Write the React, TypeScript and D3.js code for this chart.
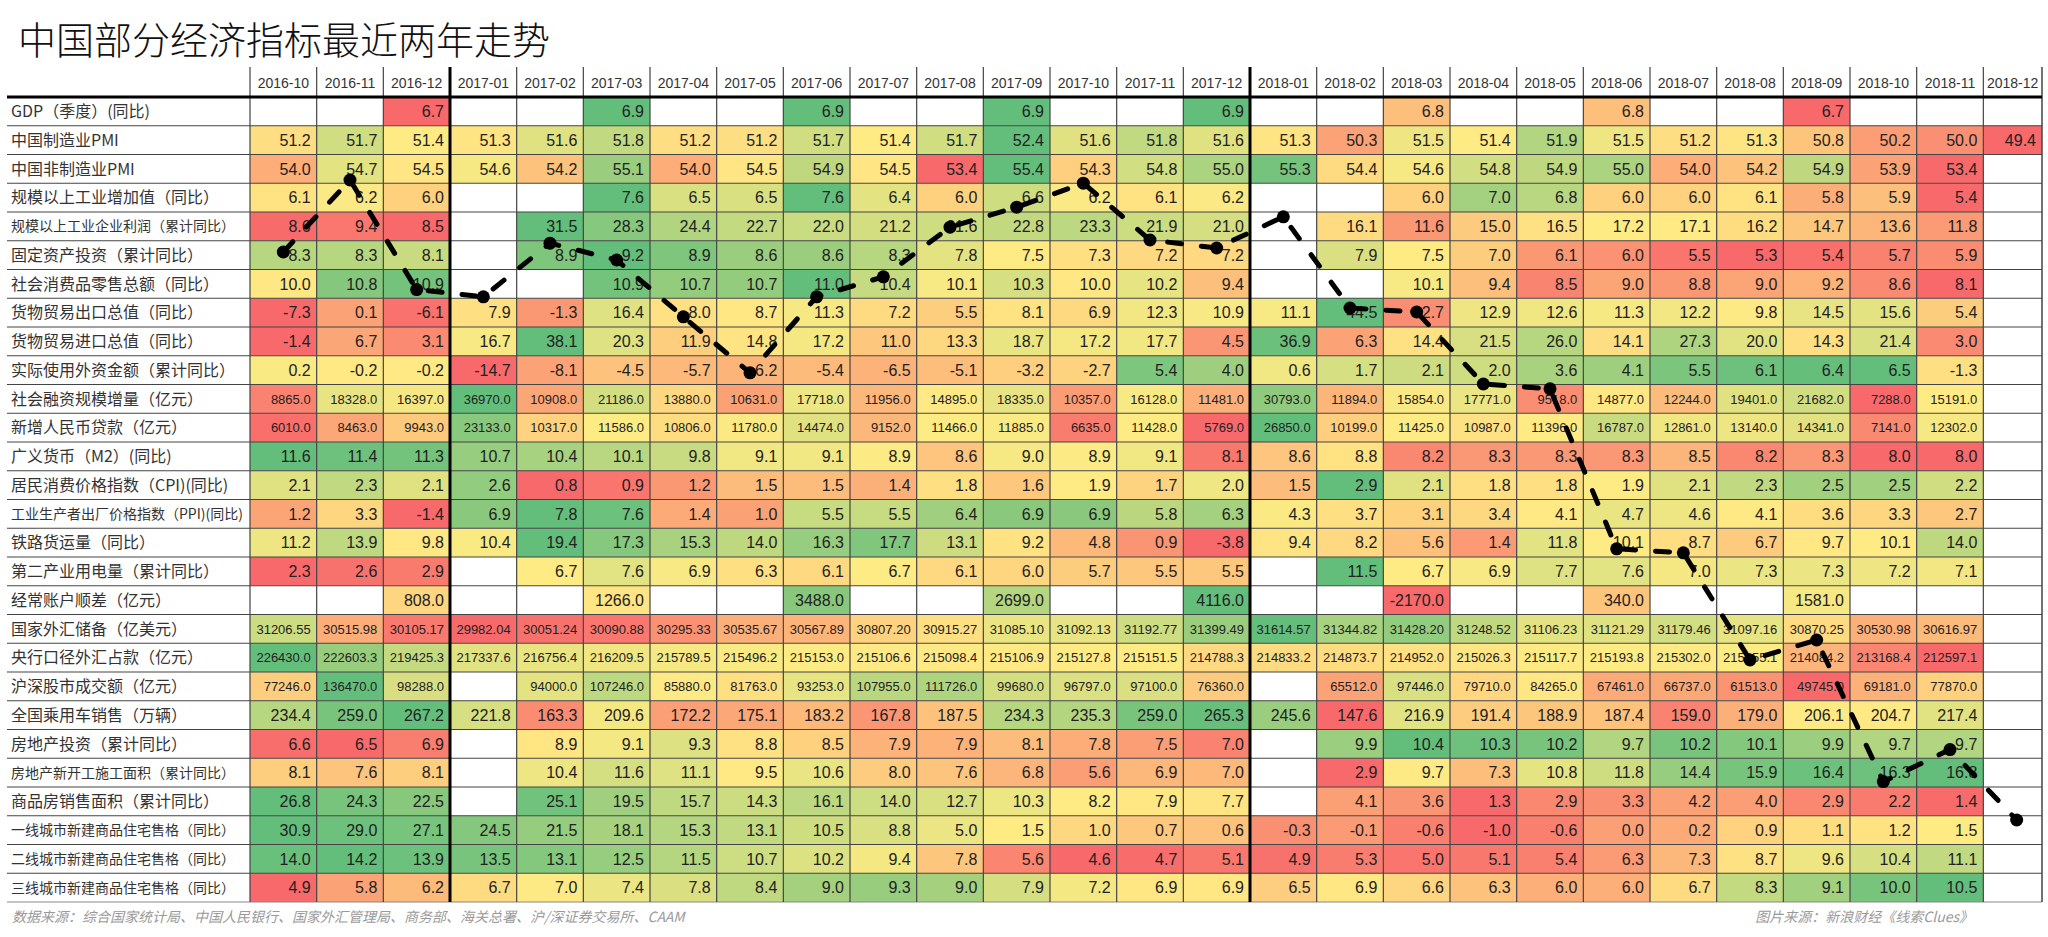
import React from "react";
import * as d3 from "d3";

const months = [
  "2016-10","2016-11","2016-12","2017-01","2017-02","2017-03","2017-04","2017-05","2017-06",
  "2017-07","2017-08","2017-09","2017-10","2017-11","2017-12","2018-01","2018-02","2018-03",
  "2018-04","2018-05","2018-06","2018-07","2018-08","2018-09","2018-10","2018-11","2018-12",
];

const rowLabels = [
  "GDP（季度）(同比)",
  "中国制造业PMI",
  "中国非制造业PMI",
  "规模以上工业增加值（同比）",
  "规模以上工业企业利润（累计同比）",
  "固定资产投资（累计同比）",
  "社会消费品零售总额（同比）",
  "货物贸易出口总值（同比）",
  "货物贸易进口总值（同比）",
  "实际使用外资金额（累计同比）",
  "社会融资规模增量（亿元）",
  "新增人民币贷款（亿元）",
  "广义货币（M2）(同比)",
  "居民消费价格指数（CPI)(同比)",
  "工业生产者出厂价格指数（PPI)(同比)",
  "铁路货运量（同比）",
  "第二产业用电量（累计同比）",
  "经常账户顺差（亿元）",
  "国家外汇储备（亿美元）",
  "央行口径外汇占款（亿元）",
  "沪深股市成交额（亿元）",
  "全国乘用车销售（万辆）",
  "房地产投资（累计同比）",
  "房地产新开工施工面积（累计同比）",
  "商品房销售面积（累计同比）",
  "一线城市新建商品住宅售格（同比）",
  "二线城市新建商品住宅售格（同比）",
  "三线城市新建商品住宅售格（同比）",
];

const _ = null;
const gdp = [_,_,6.7,_,_,6.9,_,_,6.9,_,_,6.9,_,_,6.9,_,_,6.8,_,_,6.8,_,_,6.7,_,_,_];
const pmiMfg = [51.2,51.7,51.4,51.3,51.6,51.8,51.2,51.2,51.7,51.4,51.7,52.4,51.6,51.8,51.6,51.3,50.3,51.5,51.4,51.9,51.5,51.2,51.3,50.8,50.2,50.0,49.4];
const pmiNonMfg = [54.0,54.7,54.5,54.6,54.2,55.1,54.0,54.5,54.9,54.5,53.4,55.4,54.3,54.8,55.0,55.3,54.4,54.6,54.8,54.9,55.0,54.0,54.2,54.9,53.9,53.4,_];
const industrialOutput = [6.1,6.2,6.0,_,_,7.6,6.5,6.5,7.6,6.4,6.0,6.6,6.2,6.1,6.2,_,_,6.0,7.0,6.8,6.0,6.0,6.1,5.8,5.9,5.4,_];
const industrialProfit = [8.6,9.4,8.5,_,31.5,28.3,24.4,22.7,22.0,21.2,21.6,22.8,23.3,21.9,21.0,_,16.1,11.6,15.0,16.5,17.2,17.1,16.2,14.7,13.6,11.8,_];
const fixedInvestment = [8.3,8.3,8.1,_,8.9,9.2,8.9,8.6,8.6,8.3,7.8,7.5,7.3,7.2,7.2,_,7.9,7.5,7.0,6.1,6.0,5.5,5.3,5.4,5.7,5.9,_];
const retailSales = [10.0,10.8,10.9,_,_,10.9,10.7,10.7,11.0,10.4,10.1,10.3,10.0,10.2,9.4,_,_,10.1,9.4,8.5,9.0,8.8,9.0,9.2,8.6,8.1,_];
const exportsYoY = [-7.3,0.1,-6.1,7.9,-1.3,16.4,8.0,8.7,11.3,7.2,5.5,8.1,6.9,12.3,10.9,11.1,44.5,-2.7,12.9,12.6,11.3,12.2,9.8,14.5,15.6,5.4,_];
const importsYoY = [-1.4,6.7,3.1,16.7,38.1,20.3,11.9,14.8,17.2,11.0,13.3,18.7,17.2,17.7,4.5,36.9,6.3,14.4,21.5,26.0,14.1,27.3,20.0,14.3,21.4,3.0,_];
const fdi = [0.2,-0.2,-0.2,-14.7,-8.1,-4.5,-5.7,-6.2,-5.4,-6.5,-5.1,-3.2,-2.7,5.4,4.0,0.6,1.7,2.1,2.0,3.6,4.1,5.5,6.1,6.4,6.5,-1.3,_];
const socialFinancing = [8865.0,18328.0,16397.0,36970.0,10908.0,21186.0,13880.0,10631.0,17718.0,11956.0,14895.0,18335.0,10357.0,16128.0,11481.0,30793.0,11894.0,15854.0,17771.0,9518.0,14877.0,12244.0,19401.0,21682.0,7288.0,15191.0,_];
const newLoans = [6010.0,8463.0,9943.0,23133.0,10317.0,11586.0,10806.0,11780.0,14474.0,9152.0,11466.0,11885.0,6635.0,11428.0,5769.0,26850.0,10199.0,11425.0,10987.0,11396.0,16787.0,12861.0,13140.0,14341.0,7141.0,12302.0,_];
const m2 = [11.6,11.4,11.3,10.7,10.4,10.1,9.8,9.1,9.1,8.9,8.6,9.0,8.9,9.1,8.1,8.6,8.8,8.2,8.3,8.3,8.3,8.5,8.2,8.3,8.0,8.0,_];
const cpi = [2.1,2.3,2.1,2.6,0.8,0.9,1.2,1.5,1.5,1.4,1.8,1.6,1.9,1.7,2.0,1.5,2.9,2.1,1.8,1.8,1.9,2.1,2.3,2.5,2.5,2.2,_];
const ppi = [1.2,3.3,-1.4,6.9,7.8,7.6,1.4,1.0,5.5,5.5,6.4,6.9,6.9,5.8,6.3,4.3,3.7,3.1,3.4,4.1,4.7,4.6,4.1,3.6,3.3,2.7,_];
const railFreight = [11.2,13.9,9.8,10.4,19.4,17.3,15.3,14.0,16.3,17.7,13.1,9.2,4.8,0.9,-3.8,9.4,8.2,5.6,1.4,11.8,10.1,8.7,6.7,9.7,10.1,14.0,_];
const secondaryPower = [2.3,2.6,2.9,_,6.7,7.6,6.9,6.3,6.1,6.7,6.1,6.0,5.7,5.5,5.5,_,11.5,6.7,6.9,7.7,7.6,7.0,7.3,7.3,7.2,7.1,_];
const currentAccount = [_,_,808.0,_,_,1266.0,_,_,3488.0,_,_,2699.0,_,_,4116.0,_,_,-2170.0,_,_,340.0,_,_,1581.0,_,_,_];
const fxReserves = [31206.55,30515.98,30105.17,29982.04,30051.24,30090.88,30295.33,30535.67,30567.89,30807.20,30915.27,31085.10,31092.13,31192.77,31399.49,31614.57,31344.82,31428.20,31248.52,31106.23,31121.29,31179.46,31097.16,30870.25,30530.98,30616.97,_];
const fxPosition = [226430.0,222603.3,219425.3,217337.6,216756.4,216209.5,215789.5,215496.2,215153.0,215106.6,215098.4,215106.9,215127.8,215151.5,214788.3,214833.2,214873.7,214952.0,215026.3,215117.7,215193.8,215302.0,215255.1,214084.2,213168.4,212597.1,_];
const stockTurnover = [77246.0,136470.0,98288.0,_,94000.0,107246.0,85880.0,81763.0,93253.0,107955.0,111726.0,99680.0,96797.0,97100.0,76360.0,_,65512.0,97446.0,79710.0,84265.0,67461.0,66737.0,61513.0,49745.0,69181.0,77870.0,_];
const carSales = [234.4,259.0,267.2,221.8,163.3,209.6,172.2,175.1,183.2,167.8,187.5,234.3,235.3,259.0,265.3,245.6,147.6,216.9,191.4,188.9,187.4,159.0,179.0,206.1,204.7,217.4,_];
const realEstateInv = [6.6,6.5,6.9,_,8.9,9.1,9.3,8.8,8.5,7.9,7.9,8.1,7.8,7.5,7.0,_,9.9,10.4,10.3,10.2,9.7,10.2,10.1,9.9,9.7,9.7,_];
const newStarts = [8.1,7.6,8.1,_,10.4,11.6,11.1,9.5,10.6,8.0,7.6,6.8,5.6,6.9,7.0,_,2.9,9.7,7.3,10.8,11.8,14.4,15.9,16.4,16.3,16.8,_];
const housingSales = [26.8,24.3,22.5,_,25.1,19.5,15.7,14.3,16.1,14.0,12.7,10.3,8.2,7.9,7.7,_,4.1,3.6,1.3,2.9,3.3,4.2,4.0,2.9,2.2,1.4,_];
const tier1Price = [30.9,29.0,27.1,24.5,21.5,18.1,15.3,13.1,10.5,8.8,5.0,1.5,1.0,0.7,0.6,-0.3,-0.1,-0.6,-1.0,-0.6,0.0,0.2,0.9,1.1,1.2,1.5,_];
const tier2Price = [14.0,14.2,13.9,13.5,13.1,12.5,11.5,10.7,10.2,9.4,7.8,5.6,4.6,4.7,5.1,4.9,5.3,5.0,5.1,5.4,6.3,7.3,8.7,9.6,10.4,11.1,_];
const tier3Price = [4.9,5.8,6.2,6.7,7.0,7.4,7.8,8.4,9.0,9.3,9.0,7.9,7.2,6.9,6.9,6.5,6.9,6.6,6.3,6.0,6.0,6.7,8.3,9.1,10.0,10.5,_];

// hand-drawn trend overlay (index, 0-100)
const trendIndex = [81.0,90.0,76.3,75.4,82.1,80.0,72.9,65.9,75.4,77.9,84.1,86.6,89.6,82.5,81.5,85.4,74.0,73.5,64.5,63.9,43.9,43.4,30.0,32.5,14.8,18.8,10.0];

const rows: (number | null)[][] = [
  gdp, pmiMfg, pmiNonMfg, industrialOutput, industrialProfit, fixedInvestment, retailSales,
  exportsYoY, importsYoY, fdi, socialFinancing, newLoans, m2, cpi, ppi, railFreight,
  secondaryPower, currentAccount, fxReserves, fxPosition, stockTurnover, carSales,
  realEstateInv, newStarts, housingSales, tier1Price, tier2Price, tier3Price,
];

const smallLabelRows = [4, 14, 23, 25, 26, 27];
const smallValueRows = [10, 11, 18, 19, 20];
const twoDecimalRows = [18];

const W = 2048;
const H = 937;
const labelLeft = 7;
const tableLeft = 250;
const tableRight = 2042;
const colW = 66.667;
const headerTop = 67;
const headerBottom = 97;
const tableBottom = 902;

export default function App() {
  const x = d3
    .scaleBand<string>()
    .domain(months)
    .range([tableLeft, tableLeft + colW * months.length]);
  const y = d3
    .scaleBand<number>()
    .domain(rowLabels.map((_, i) => i))
    .range([headerBottom, tableBottom]);
  const ty = d3.scaleLinear().domain([0, 100]).range([900, 100]);

  const colorScales = rows.map((r) => {
    const vals = r.filter((v): v is number => v !== null);
    const mn = d3.min(vals) as number;
    const mx = d3.max(vals) as number;
    const md = d3.quantile(vals.slice().sort((a, b) => a - b), 0.5) as number;
    return d3
      .scaleLinear<string>()
      .domain([mn, md, mx])
      .range(["#F8696B", "#FFEB84", "#63BE7B"])
      .interpolate(d3.interpolateRgb)
      .clamp(true);
  });

  const bw = x.bandwidth();
  const rh = y.bandwidth();
  const cellRight = (m: string) => Math.min((x(m) as number) + bw, tableRight);

  const trendPts = months.map((m, i) => [(x(m) as number) + bw / 2, ty(trendIndex[i])] as [number, number]);
  const line = d3.line();

  const cjk = "'Noto Sans CJK SC', 'Noto Sans', sans-serif";
  const num = "'Liberation Sans', Arial, sans-serif";

  return (
    <svg
      width={W}
      height={H}
      style={{ position: "absolute", left: 0, top: 0, display: "block", background: "#fff" }}
    >
      <rect x={0} y={0} width={W} height={H} fill="#fff" />
      <text x={18} y={54} fontFamily={cjk} fontSize={38} fontWeight={300} fill="#111">
        中国部分经济指标最近两年走势
      </text>

      {/* cells */}
      {rows.map((r, ri) =>
        r.map((v, ci) => {
          const m = months[ci];
          const x0 = x(m) as number;
          const y0 = y(ri) as number;
          const w = cellRight(m) - x0;
          return (
            <rect
              key={`c${ri}-${ci}`}
              x={x0}
              y={y0}
              width={w}
              height={rh}
              fill={v === null ? "#fff" : colorScales[ri](v)}
            />
          );
        })
      )}

      {/* horizontal grid */}
      {rowLabels.map((_, ri) => {
        const yb = (y(ri) as number) + rh;
        return (
          <line
            key={`h${ri}`}
            x1={labelLeft}
            x2={tableRight}
            y1={yb}
            y2={yb}
            stroke={ri === rowLabels.length - 1 ? "#888" : "#444"}
            strokeWidth={1.2}
          />
        );
      })}

      {/* vertical grid */}
      {months.map((m, ci) => {
        const xv = x(m) as number;
        const thick = ci === 3 || ci === 15;
        return (
          <line
            key={`v${ci}`}
            x1={xv}
            x2={xv}
            y1={headerTop}
            y2={tableBottom}
            stroke={thick ? "#000" : "#444"}
            strokeWidth={thick ? 3 : 1.2}
          />
        );
      })}
      <line x1={tableRight} x2={tableRight} y1={headerTop} y2={tableBottom} stroke="#444" strokeWidth={1.5} />
      <line x1={labelLeft} x2={tableRight} y1={headerBottom} y2={headerBottom} stroke="#000" strokeWidth={3} />

      {/* header */}
      {months.map((m) => (
        <text
          key={`hd${m}`}
          x={((x(m) as number) + cellRight(m)) / 2}
          y={88}
          textAnchor="middle"
          fontFamily={num}
          fontSize={14}
          fill="#333"
        >
          {m}
        </text>
      ))}

      {/* row labels */}
      {rowLabels.map((lab, ri) => {
        const fs = smallLabelRows.includes(ri) ? 14 : 16;
        return (
          <text
            key={`l${ri}`}
            x={11}
            y={(y(ri) as number) + rh / 2 + fs * 0.36}
            fontFamily={cjk}
            fontSize={fs}
            fill="#333"
          >
            {lab}
          </text>
        );
      })}

      {/* values */}
      {rows.map((r, ri) =>
        r.map((v, ci) => {
          if (v === null) return null;
          const m = months[ci];
          const fs = smallValueRows.includes(ri) ? 13 : 16;
          const txt = v.toFixed(twoDecimalRows.includes(ri) ? 2 : 1);
          return (
            <text
              key={`t${ri}-${ci}`}
              x={cellRight(m) - 6}
              y={(y(ri) as number) + rh / 2 + fs * 0.36}
              textAnchor="end"
              fontFamily={num}
              fontSize={fs}
              fill="#222"
            >
              {txt}
            </text>
          );
        })
      )}

      {/* trend overlay */}
      <path
        d={line(trendPts) || ""}
        fill="none"
        stroke="#000"
        strokeWidth={5}
        strokeDasharray="14 20"
        strokeLinecap="round"
      />
      {trendPts.map((p, i) => (
        <circle key={`d${i}`} cx={p[0]} cy={p[1]} r={6.5} fill="#000" />
      ))}

      {/* footer */}
      <text x={12} y={922} fontFamily={cjk} fontSize={14} fontStyle="italic" fill="#9a9a9a">
        数据来源：综合国家统计局、中国人民银行、国家外汇管理局、商务部、海关总署、沪/深证券交易所、CAAM
      </text>
      <text x={1973} y={922} textAnchor="end" fontFamily={cjk} fontSize={14} fontStyle="italic" fill="#9a9a9a">
        图片来源：新浪财经《线索Clues》
      </text>
    </svg>
  );
}
